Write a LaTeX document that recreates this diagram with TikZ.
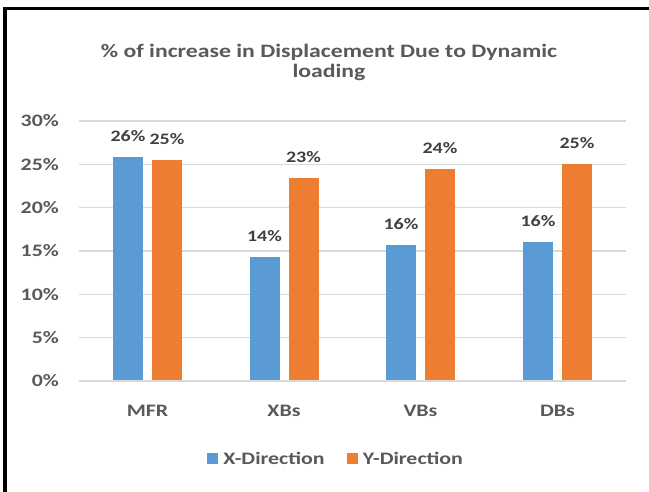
\documentclass[tikz,border=0pt]{standalone}
\usepackage{fontspec}
\setmainfont{Carlito}[FakeStretch=1.25]
\usetikzlibrary{positioning}
\definecolor{barblue}{RGB}{91,155,213}
\definecolor{barorange}{RGB}{237,125,49}
\definecolor{gridgray}{RGB}{217,217,217}
\definecolor{textgray}{RGB}{89,89,89}
\definecolor{valuegray}{RGB}{64,64,64}

\begin{document}
\begin{tikzpicture}[x=1pt, y=-1pt,
font=\bfseries\fontsize{17.5}{20}\selectfont, node distance=15pt,
bar/.style={rectangle, fill=#1, minimum width=30pt, inner sep=0pt, anchor=south},
value/.style={text=valuegray, inner sep=0pt, font=\bfseries\fontsize{16}{18}\selectfont},
tick/.style={text=textgray, anchor=east, inner sep=0pt},
category/.style={text=textgray, inner sep=0pt},
key/.style={rectangle, fill=#1, minimum size=11pt, inner sep=0pt},
gridline/.style={draw=gridgray, line width=1.2pt}
]
\useasboundingbox (0,0) rectangle (649,492);

% Frame
\draw[line width=3.4pt] (5,492) -- (5,8.3) -- (649,8.3);

% Title
\node[text=textgray, align=center, font=\bfseries\fontsize{19}{20}\selectfont] (title) at (329,62)
{\% of increase in Displacement Due to Dynamic\\loading};

% Axis
\node[tick] (t0) at (59,381) {0\%};
\node[tick] (t5) at (59,337.7) {5\%};
\node[tick] (t10) at (59,294.3) {10\%};
\node[tick] (t15) at (59,251) {15\%};
\node[tick] (t20) at (59,207.7) {20\%};
\node[tick] (t25) at (59,164.3) {25\%};
\node[tick] (t30) at (59,121) {30\%};

% Grid
\draw[gridline] (79,121) -- (626,121);
\draw[gridline] (79,164.3) -- (626,164.3);
\draw[gridline] (79,207.7) -- (626,207.7);
\draw[gridline] (79,251) -- (626,251);
\draw[gridline] (79,294.3) -- (626,294.3);
\draw[gridline] (79,337.7) -- (626,337.7);
\draw[gridline] (79,381) -- (626,381);

% MFR
\node[bar=barblue, minimum height=223.6pt] (mfrx) at (128,380.4) {};
\node[bar=barorange, minimum height=220.1pt] (mfry) at (167,380.4) {};
\node[value, above=of mfrx] {26\%};
\node[value, above=of mfry] {25\%};

% XBs
\node[bar=barblue, minimum height=122.7pt] (xbsx) at (264.5,380.4) {};
\node[bar=barorange, minimum height=201.7pt] (xbsy) at (303.5,380.4) {};
\node[value, above=of xbsx] {14\%};
\node[value, above=of xbsy] {23\%};

% VBs
\node[bar=barblue, minimum height=135pt] (vbsx) at (401,380.4) {};
\node[bar=barorange, minimum height=211pt] (vbsy) at (440,380.4) {};
\node[value, above=of vbsx] {16\%};
\node[value, above=of vbsy] {24\%};

% DBs
\node[bar=barblue, minimum height=137.8pt] (dbsx) at (538,380.4) {};
\node[bar=barorange, minimum height=215.8pt] (dbsy) at (577,380.4) {};
\node[value, above=of dbsx] {16\%};
\node[value, above=of dbsy] {25\%};

% Categories
\node[category] (mfr) at (147.5,411) {MFR};
\node[category] (xbs) at (284,411) {XBs};
\node[category] (vbs) at (420.5,411) {VBs};
\node[category] (dbs) at (557.5,411) {DBs};

% Legend
\node[key=barblue] (keyx) at (212.5,458) {};
\node[text=textgray, inner sep=0pt, right=5pt of keyx] (labelx) {X-Direction};
\node[key=barorange] (keyy) at (352,458) {};
\node[text=textgray, inner sep=0pt, right=5pt of keyy] (labely) {Y-Direction};

\end{tikzpicture}
\end{document}
